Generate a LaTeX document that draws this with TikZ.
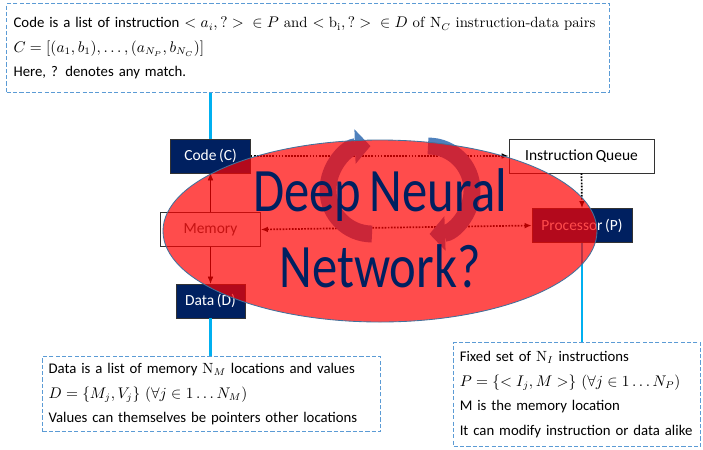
\documentclass[tikz,border=0pt]{standalone}
\usepackage{fontspec}
\usetikzlibrary{arrows.meta}
\newfontfamily\calibri[WordSpace=0.75]{Carlito}
\definecolor{navy}{HTML}{002060}
\definecolor{linkcyan}{HTML}{00B0F0}
\definecolor{noteblue}{HTML}{5B9BD5}
\definecolor{rimblue}{HTML}{41719C}
\definecolor{loopblue}{HTML}{4F81BD}
\def\unit{0.025cm}

\begin{document}
\begin{tikzpicture}[x=\unit, y=-\unit,
    every node/.style={font=\calibri\fontsize{11}{18}\selectfont},
    >={Latex[length=5pt,width=4pt]},
    unitbox/.style={draw=black!80, minimum height=0.85cm, inner sep=0pt},
    darkbox/.style={unitbox, fill=navy, text=white},
    lightbox/.style={unitbox, fill=white, text=black},
    notebox/.style={draw=noteblue, line width=0.9pt, dash pattern=on 3pt off 1.5pt,
      align=left, anchor=north west, inner xsep=4pt,
      font=\calibri\fontsize{10.5}{17.5}\selectfont},
    link/.style={linkcyan, line width=1.5pt},
    flow/.style={black, line width=1.2pt, densely dotted},
    loopband/.style={loopblue, line width=12pt, -{Triangle[width=24pt,length=11pt]}}]
  \useasboundingbox (0,0) rectangle (703,449);

  % boxes
  \node[darkbox, minimum width=2cm] (code) at (210.5,156) {Code (C)};
  \node[lightbox, minimum width=3.625cm] (queue) at (581.5,156) {Instruction Queue};
  \node[lightbox, minimum width=2.5cm, text=black!75] (memory) at (210.5,229.5) {Memory};
  \node[darkbox, minimum width=1.725cm] (data) at (210.5,301) {Data (D)};
  \node[darkbox, minimum width=2.5cm] (proc) at (582,225.5) {Processor (P)};

  % notes
  \node[notebox, minimum width=15.075cm, minimum height=2.225cm, text width=419pt] (codenote) at (6,3)
    {Code is a list of instruction $< a_i, ?>{}\in P$ \textrm{and} $< \mathrm{b_i}, ?>{}\in D$ \textrm{of} $\mathrm{N}_C$ \textrm{instruction-data pairs}\\
     $C = [(a_1, b_1), \ldots, (a_{N_P}, b_{N_C})]$\\
     Here, ? denotes any match.};
  \node[notebox, minimum width=8.45cm, minimum height=1.875cm, text width=232pt] (datanote) at (42,356)
    {Data is a list of memory $\mathrm{N}_M$ locations and values\\
     $D = \bigl\{M_j, V_j\bigr\}\ (\forall j \in 1 \ldots N_M)$\\
     Values can themselves be pointers other locations};
  \node[notebox, minimum width=6.175cm, minimum height=2.6cm, text width=167pt] (procnote) at (453,342)
    {Fixed set of $\mathrm{N}_I$ instructions\\
     $P = \bigl\{< I_j, M >\bigr\}\ (\forall j \in 1 \ldots N_P)$\\
     M is the memory location\\
     It can modify instruction or data alike};

  % connectors
  \draw[link] (code.north) -- (code.north |- codenote.south);
  \draw[link] (data.south) -- (data.south |- datanote.north);
  \draw[link] (proc.south) -- (proc.south |- procnote.north);
  \draw[->, thin] (memory.north) -- (code.south);
  \draw[->, thin] (memory.south) -- (data.north);
  \draw[flow, ->] (code.east) -- (queue.west);
  \draw[flow, ->] (queue.south) -- (proc.north);
  \draw[flow, <->] (memory.east) -- (proc.west);

  % loop
  \draw[loopband] (372,234) arc[start angle=90, end angle=268, radius=44];
  \draw[loopband] (428,146) arc[start angle=-90, end angle=88, radius=44];

  \draw[rimblue, line width=0.6pt, fill=red, fill opacity=0.7] (380,231) ellipse [x radius=217, y radius=91];
  \node[shift={(380,228.5)}, yscale=1.22, transform shape, text=navy, align=center,
    font=\calibri\fontsize{36}{44}\selectfont] (dnn) {Deep Neural\\Network?};
\end{tikzpicture}
\end{document}
